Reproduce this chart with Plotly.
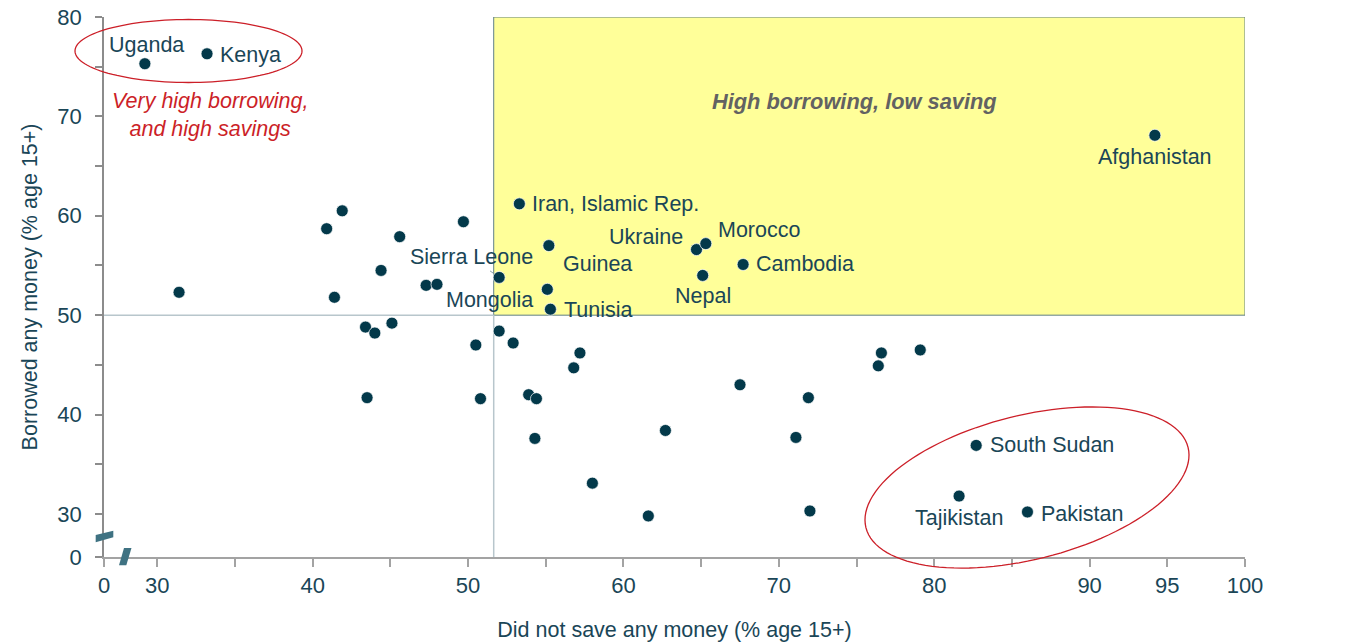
import math
import plotly.graph_objects as go

# ---------------- data ----------------
countries = ["Uganda", "Kenya", "", "", "", "", "", "", "", "", "", "", "", "", "", "", "",
             "Sierra Leone", "Iran, Islamic Rep.", "Guinea", "Mongolia", "Tunisia",
             "", "", "", "", "", "", "", "", "", "",
             "Ukraine", "Morocco", "Nepal", "Cambodia",
             "", "", "", "", "", "", "",
             "South Sudan", "Tajikistan", "Pakistan", "Afghanistan"]
did_not_save = [29.2, 33.2, 31.4, 40.9, 41.9, 41.4, 44.4, 45.6, 43.4, 44.0, 45.1, 43.5, 47.3, 48.0,
                49.7, 50.5, 50.8,
                52.0, 53.3, 55.2, 55.1, 55.3,
                52.0, 52.9, 57.2, 56.8, 53.9, 54.4, 54.3, 58.0, 61.6, 62.7,
                64.7, 65.3, 65.1, 67.7,
                67.5, 71.9, 71.1, 72.0, 76.6, 76.4, 79.1,
                82.7, 81.6, 86.0, 94.2]
borrowed = [75.3, 76.3, 52.3, 58.7, 60.5, 51.8, 54.5, 57.9, 48.8, 48.2, 49.2, 41.7, 53.0, 53.1,
            59.4, 47.0, 41.6,
            53.8, 61.2, 57.0, 52.6, 50.6,
            48.4, 47.2, 46.2, 44.7, 42.0, 41.6, 37.6, 33.1, 29.8, 38.4,
            56.6, 57.2, 54.0, 55.1,
            43.0, 41.7, 37.7, 30.3, 46.2, 44.9, 46.5,
            36.9, 31.8, 30.2, 68.1]

x_tickvals = [26.57, 30, 35, 40, 45, 50, 55, 60, 65, 70, 75, 80, 85, 90, 95, 100]
x_ticktext = ["0", "30", "", "40", "", "50", "", "60", "", "70", "", "80", "", "90", "95", "100"]
y_tickvals = [25.67, 30, 35, 40, 45, 50, 55, 60, 65, 70, 75, 80]
y_ticktext = ["0", "30", "", "40", "", "50", "", "60", "", "70", "", "80"]

x_range = [26.57, 100]
y_range = [25.67, 80]
split_x = 51.65   # threshold of "did not save"
split_y = 50      # threshold of "borrowed"

# label placement: name -> (xanchor, yanchor, xshift, yshift)
label_style = {
    "Uganda": ("center", "middle", 2, 19),
    "Kenya": ("left", "middle", 11, -1),
    "Iran, Islamic Rep.": ("left", "middle", 11, 0),
    "Guinea": ("left", "middle", 12, -18),
    "Mongolia": ("right", "middle", -12, -11),
    "Tunisia": ("left", "middle", 12, -1),
    "Ukraine": ("right", "middle", -11, 13),
    "Morocco": ("left", "middle", 10, 14),
    "Nepal": ("center", "middle", 0, -21),
    "Cambodia": ("left", "middle", 11, 0),
    "Afghanistan": ("center", "middle", 0, -22),
    "South Sudan": ("left", "middle", 12, 0),
    "Tajikistan": ("center", "middle", 0, -22),
    "Pakistan": ("left", "middle", 12, -2),
}

# ---------------- style ----------------
FONT = "Liberation Sans, Arial, sans-serif"
DOT = "#03394a"
TXT = "#1a4657"
RED = "#cc1f28"
W, H = 1348, 643
ML, MR, MT, MB = 104, 103, 17, 86
PW, PH = W - ML - MR, H - MT - MB


def px2paper(px, py):
    return (px - ML) / PW, (H - MB - py) / PH


def ellipse_path(cx, cy, a, b, ang_deg, n=120):
    th = math.radians(ang_deg)
    pts = []
    for i in range(n):
        t = 2 * math.pi * i / n
        px = cx + a * math.cos(t) * math.cos(th) - b * math.sin(t) * math.sin(th)
        py = cy - (a * math.cos(t) * math.sin(th) + b * math.sin(t) * math.cos(th))
        pts.append(px2paper(px, py))
    return "M " + " L ".join(f"{x:.5f},{y:.5f}" for x, y in pts) + " Z"


def poly_path(points):
    pp = [px2paper(x, y) for x, y in points]
    return "M " + " L ".join(f"{x:.5f},{y:.5f}" for x, y in pp) + " Z"


fig = go.Figure()

fig.add_trace(go.Scatter(
    x=did_not_save, y=borrowed, mode="markers",
    marker=dict(size=12, color=DOT, line=dict(width=1, color="rgba(255,255,255,0.7)")),
    hoverinfo="skip", showlegend=False, cliponaxis=False,
))

shapes = [
    # yellow quadrant
    dict(type="rect", xref="x", yref="y", x0=split_x, x1=x_range[1], y0=split_y, y1=y_range[1],
         fillcolor="#ffff99", line=dict(color="#5f7f88", width=1), layer="below"),
    # reference lines
    dict(type="line", xref="x", yref="y", x0=x_range[0], x1=split_x, y0=split_y, y1=split_y,
         line=dict(color="#b8c6cc", width=1.5), layer="below"),
    dict(type="line", xref="x", yref="y", x0=split_x, x1=split_x, y0=y_range[0], y1=split_y,
         line=dict(color="#b8c6cc", width=1.5), layer="below"),
    # red ellipses
    dict(type="path", xref="paper", yref="paper", path=ellipse_path(188.5, 51, 113.5, 31.5, 0),
         line=dict(color=RED, width=1.3)),
    dict(type="path", xref="paper", yref="paper", path=ellipse_path(1027, 487.5, 166, 72, 14),
         line=dict(color=RED, width=1.3)),
    # axis break marks
    dict(type="path", xref="paper", yref="paper",
         path=poly_path([(95.7, 535), (113.3, 530.7), (113.3, 537.3), (95.7, 542.3)]),
         fillcolor="#3f7282", line=dict(width=0)),
    dict(type="path", xref="paper", yref="paper",
         path=poly_path([(124, 548), (131.5, 548), (126.3, 565.3), (119, 565.3)]),
         fillcolor="#3f7282", line=dict(width=0)),
]

annotations = []
for name, xv, yv in zip(countries, did_not_save, borrowed):
    if name in label_style:
        xa, ya, xs, ys = label_style[name]
        annotations.append(dict(x=xv, y=yv, xref="x", yref="y", text=name, showarrow=False,
                                xanchor=xa, yanchor=ya, xshift=xs, yshift=ys,
                                font=dict(family=FONT, size=21.5, color=TXT)))
    elif name == "Sierra Leone":
        annotations.append(dict(x=xv, y=yv, xref="x", yref="y", text=name, showarrow=True,
                                ax=-28, ay=-20, arrowhead=0, arrowwidth=1, arrowcolor="#8aa0a8",
                                standoff=7, font=dict(family=FONT, size=21.5, color=TXT)))

annotations += [
    dict(x=33.4, y=70.1, xref="x", yref="y", showarrow=False,
         text="<i>Very high borrowing,<br>and high savings</i>",
         font=dict(family=FONT, size=21.5, color=RED)),
    dict(x=100.2, y=29.2, xref="x", yref="y", showarrow=False,
         text="<i>Very few people<br>are saving</i>",
         font=dict(family=FONT, size=21.5, color=RED)),
    dict(x=74.87, y=71.45, xref="x", yref="y", showarrow=False,
         text="<b><i>High borrowing, low saving</i></b>",
         font=dict(family=FONT, size=21.8, color="#626262")),
]

fig.update_layout(
    width=W, height=H,
    margin=dict(l=ML, r=MR, t=MT, b=MB, pad=0, autoexpand=False),
    paper_bgcolor="white", plot_bgcolor="white",
    shapes=shapes, annotations=annotations,
    font=dict(family=FONT, color=TXT),
    xaxis=dict(range=x_range, tickvals=x_tickvals, ticktext=x_ticktext, automargin=False,
               showgrid=False, zeroline=False, showline=True, linecolor="#a3a3a3", linewidth=2,
               ticks="outside", ticklen=8, tickcolor="#a3a3a3", tickwidth=1.5,
               ticklabelstandoff=0,
               tickfont=dict(family=FONT, size=22, color=TXT),
               title=dict(text="Did not save any money (% age 15+)", standoff=25,
                          font=dict(family=FONT, size=21.5, color=TXT))),
    yaxis=dict(range=y_range, tickvals=y_tickvals, ticktext=y_ticktext, automargin=False,
               showgrid=False, zeroline=False, showline=True, linecolor="#8c8c8c", linewidth=1.5,
               ticks="outside", ticklen=7, tickcolor="#8c8c8c", tickwidth=1.5,
               ticklabelstandoff=9,
               tickfont=dict(family=FONT, size=22, color=TXT),
               title=dict(text="Borrowed any money (% age 15+)", standoff=14,
                          font=dict(family=FONT, size=21.5, color=TXT))),
)

fig.write_html("out.html")
